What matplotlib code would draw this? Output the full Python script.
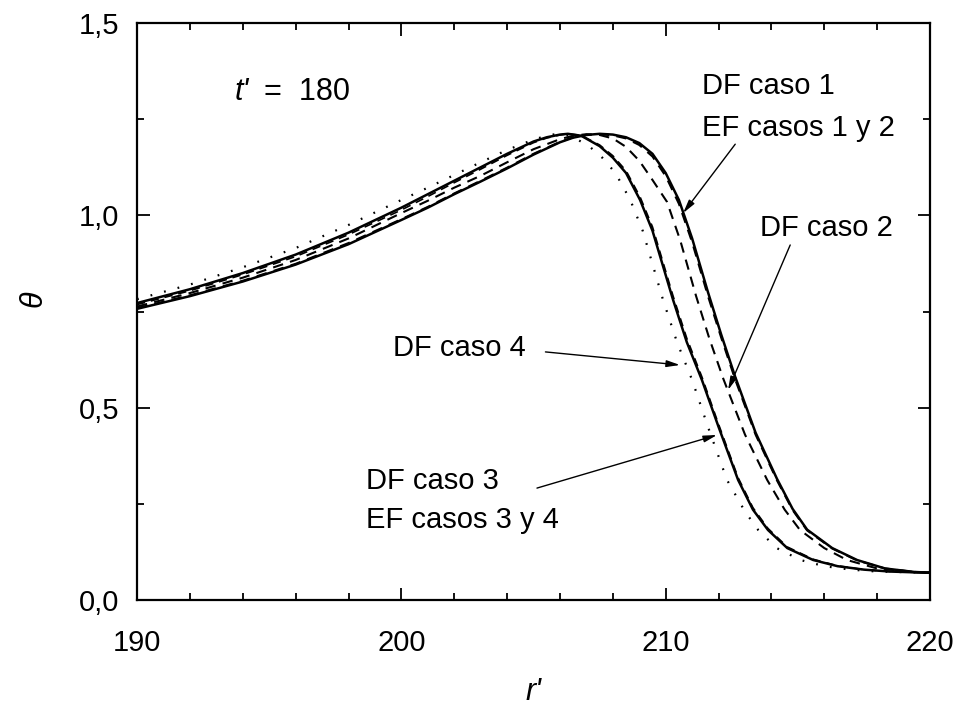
import numpy as np
import matplotlib.pyplot as plt

plt.rcParams['font.family'] = ['Liberation Sans', 'DejaVu Sans']
plt.rcParams['mathtext.fontset'] = 'custom'
plt.rcParams['mathtext.rm'] = 'Liberation Sans'
plt.rcParams['mathtext.it'] = 'Liberation Sans:italic'

# DF caso 1 (solid, right)
r_df1 = [190, 192, 194, 196, 198, 200, 201, 202, 203, 204, 205, 206, 206.5, 207, 207.5,
         208, 208.5, 209, 209.5, 210, 210.5, 211, 211.6, 212.1, 212.63, 213.4, 214.21,
         214.8, 215.35, 216.3, 217.24, 218.3, 219.4, 220]
th_df1 = [0.757, 0.79, 0.828, 0.872, 0.925, 0.988, 1.02, 1.055, 1.088, 1.122, 1.158, 1.19,
          1.202, 1.209, 1.212, 1.21, 1.203, 1.188, 1.16, 1.11, 1.04, 0.94, 0.80, 0.69,
          0.58, 0.435, 0.315, 0.237, 0.183, 0.135, 0.104, 0.082, 0.073, 0.071]

# EF casos 1 y 2 (dashed, on top of DF caso 1)
r_ef12 = [190, 192, 194, 196, 198, 200, 201, 202, 203, 204, 205, 206, 206.5, 207, 207.5,
          208, 208.5, 209, 209.5, 210, 210.5, 211, 211.6, 212.1, 212.63, 213.4, 214.21,
          214.8, 215.35, 216.3, 217.24, 218.3, 219.4, 220]
th_ef12 = [0.759, 0.792, 0.830, 0.874, 0.928, 0.990, 1.022, 1.057, 1.090, 1.124, 1.160, 1.191,
           1.203, 1.209, 1.211, 1.208, 1.2, 1.183, 1.153, 1.102, 1.03, 0.93, 0.79, 0.682,
           0.573, 0.43, 0.311, 0.234, 0.181, 0.134, 0.103, 0.082, 0.073, 0.071]

# DF caso 2 (dashed)
r_df2 = [190, 192, 194, 196, 198, 200, 201, 202, 203, 204, 205, 206, 206.5, 207, 207.5,
         208, 208.5, 209, 209.5, 210.05, 210.55, 211.15, 211.65, 212.18, 213, 213.84, 214.5,
         215.08, 216, 216.86, 218, 219.4, 220]
th_df2 = [0.763, 0.798, 0.838, 0.884, 0.94, 1.006, 1.038, 1.072, 1.103, 1.138, 1.172, 1.198,
          1.207, 1.211, 1.209, 1.2, 1.178, 1.142, 1.092, 1.035, 0.935, 0.79, 0.68, 0.575,
          0.43, 0.312, 0.235, 0.182, 0.135, 0.104, 0.082, 0.073, 0.071]

# DF caso 3 (solid, left)
r_df3 = [190, 192, 194, 196, 198, 200, 201, 202, 203, 204, 205, 205.5, 206, 206.3, 206.8,
         207.5, 208, 208.5, 209.03, 209.5, 210.28, 210.8, 211.37, 212, 212.74, 213.3,
         213.87, 214.6, 215.58, 216.5, 217.5, 218.5, 219.4, 220]
th_df3 = [0.772, 0.808, 0.85, 0.898, 0.955, 1.02, 1.055, 1.09, 1.125, 1.16, 1.192, 1.203,
          1.21, 1.212, 1.207, 1.18, 1.15, 1.11, 1.04, 0.96, 0.78, 0.67, 0.572, 0.45, 0.312,
          0.235, 0.182, 0.135, 0.104, 0.088, 0.079, 0.074, 0.072, 0.071]

# EF casos 3 y 4 (dashed, on top of DF caso 3)
r_ef34 = [190, 192, 194, 196, 198, 200, 201, 202, 203, 204, 205, 205.5, 206, 206.3, 206.8,
          207.5, 208, 208.5, 209.03, 209.5, 210.28, 210.8, 211.37, 212, 212.74, 213.3,
          213.87, 214.6, 215.58, 216.5, 217.5, 218.5, 219.4, 220]
th_ef34 = [0.768, 0.804, 0.846, 0.893, 0.950, 1.014, 1.049, 1.085, 1.120, 1.156, 1.189, 1.201,
           1.209, 1.212, 1.208, 1.183, 1.155, 1.116, 1.048, 0.97, 0.79, 0.68, 0.58, 0.457,
           0.318, 0.24, 0.186, 0.138, 0.106, 0.089, 0.079, 0.074, 0.072, 0.071]

# DF caso 4 (dotted)
r_df4 = [190, 192, 194, 196, 198, 200, 201, 202, 203, 204, 205, 205.5, 205.9, 206.4, 207.1,
         207.6, 208.1, 208.66, 209.13, 209.9, 210.43, 211, 211.6, 212.32, 213, 213.5, 214.2,
         215.1, 216, 217, 218, 219.4, 220]
th_df4 = [0.782, 0.82, 0.865, 0.915, 0.975, 1.04, 1.072, 1.105, 1.138, 1.17, 1.197, 1.207,
          1.212, 1.207, 1.18, 1.15, 1.11, 1.04, 0.96, 0.78, 0.67, 0.572, 0.45, 0.312, 0.23,
          0.182, 0.135, 0.104, 0.088, 0.079, 0.074, 0.072, 0.071]

y_ticks = [0.0, 0.5, 1.0, 1.5]
y_ticklabels = ['0,0', '0,5', '1,0', '1,5']
x_ticks = [190, 200, 210, 220]

fig = plt.figure(figsize=(9.59, 7.15), dpi=100)
ax = fig.add_axes([0.1429, 0.1608, 0.8269, 0.8070])

ax.plot(r_df1, th_df1, color='black', lw=1.8, ls='-')
ax.plot(r_ef12, th_ef12, color='black', lw=1.5, ls=(0, (5, 3.5)))
ax.plot(r_df2, th_df2, color='black', lw=1.5, ls=(0, (5, 3.5)))
ax.plot(r_df3, th_df3, color='black', lw=1.8, ls='-')
ax.plot(r_ef34, th_ef34, color='black', lw=1.2, ls=(0, (5, 3.5)))
ax.plot(r_df4, th_df4, color='black', lw=1.6, ls=(0, (0.8, 5.5)))

ax.set_xlim(190, 220)
ax.set_ylim(0.0, 1.5)
ax.set_xticks(x_ticks)
ax.set_xticks(np.arange(190, 221, 2), minor=True)
ax.set_yticks(y_ticks)
ax.set_yticklabels(y_ticklabels)
ax.set_yticks(np.arange(0, 1.51, 0.25), minor=True)
ax.tick_params(which='both', direction='in', top=True, right=True, width=1.3, labelsize=21)
ax.tick_params(axis='x', which='major', pad=21)
ax.tick_params(axis='y', which='major', pad=13)
ax.tick_params(which='major', length=9)
ax.tick_params(which='minor', length=5)
for s in ax.spines.values():
    s.set_linewidth(1.6)

ax.set_xlabel("r'", fontsize=22, style='italic')
ax.set_ylabel(r'$\theta$', fontsize=22)
ax.xaxis.set_label_coords(0.5, -0.133)
ax.yaxis.set_label_coords(-0.11, 0.52)

fs = 21
ax.text(193.71, 1.32, "t'", fontsize=22, style='italic', va='center', ha='left')
ax.text(194.8, 1.32, "=  180", fontsize=22, va='center', ha='left')
ax.text(211.38, 1.337, 'DF caso 1', fontsize=fs, va='center', ha='left')
ax.text(211.38, 1.228, 'EF casos 1 y 2', fontsize=fs, va='center', ha='left')
ax.text(213.57, 0.968, 'DF caso 2', fontsize=fs, va='center', ha='left')
ax.text(199.69, 0.655, 'DF caso 4', fontsize=fs, va='center', ha='left')
ax.text(198.66, 0.309, 'DF caso 3', fontsize=fs, va='center', ha='left')
ax.text(198.66, 0.208, 'EF casos 3 y 4', fontsize=fs, va='center', ha='left')

arrow = dict(arrowstyle='-|>,head_length=0.8,head_width=0.2', color='black', lw=1.0,
             shrinkA=0, shrinkB=0)
ax.annotate('', xy=(210.66, 1.006), xytext=(212.63, 1.185), arrowprops=arrow)
ax.annotate('', xy=(212.36, 0.546), xytext=(214.71, 0.923), arrowprops=arrow)
ax.annotate('', xy=(210.54, 0.611), xytext=(205.45, 0.645), arrowprops=arrow)
ax.annotate('', xy=(211.94, 0.429), xytext=(205.13, 0.291), arrowprops=arrow)

fig.savefig('out.png', dpi=100)
